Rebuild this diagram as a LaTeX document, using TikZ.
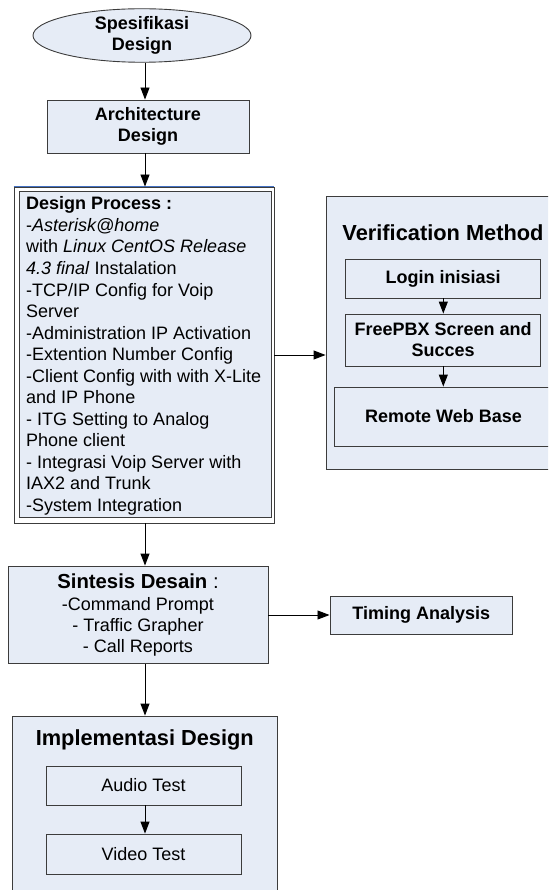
\documentclass[tikz,border=0pt]{standalone}
\usepackage{fontspec}
\setmainfont{Liberation Sans}
\usetikzlibrary{arrows.meta,shapes.geometric}
\definecolor{boxblue}{RGB}{230,236,246}
\definecolor{edgegray}{RGB}{60,60,60}
\definecolor{topblue}{RGB}{68,114,196}
\newcommand\fsmain{\fontsize{18}{21}\selectfont}
\newcommand\fslist{\fontsize{18}{21.55}\selectfont}
\newcommand\fstitle{\fontsize{21.8}{25}\selectfont}
\newcommand\fssint{\fontsize{20.3}{24}\selectfont}
\tikzset{
  blk/.style={draw=edgegray, line width=0.9pt, fill=boxblue, inner sep=0pt,
              font=\fsmain, align=center},
  bblk/.style={blk, font=\fsmain\bfseries},
  arr/.style={-{Triangle[length=12pt,width=9pt]}, line width=0.9pt, black},
  ttl/.style={inner sep=0pt, font=\fstitle\bfseries},
}
\begin{document}
\begin{tikzpicture}[x=1pt,y=-1pt]
\useasboundingbox (0,0) rectangle (548,890);
\begin{scope}
\clip (0,0) rectangle (548,890);

% vertical lines along which the flows run
\coordinate (colx) at (145,0);
\coordinate (vcol) at (443.3,0);

% main flow
\node[bblk, ellipse, minimum width=218, minimum height=53] (spec) at (142,35.5) {Spesifikasi\\Design};
\node[bblk, minimum width=202, minimum height=53] (arch) at (148,126.5) {Architecture\\Design};

% design process: framed box with list of steps
\node[draw=edgegray, line width=0.9pt, inner sep=0pt, minimum width=260, minimum height=336] (dframe) at (144,355) {};
\draw[topblue, line width=0.9pt] (dframe.north west) -- (dframe.north east);
\node[blk, minimum width=252, minimum height=326.5] (design) at (145.5,354.25) {};
\node[inner sep=0pt, anchor=north west, align=left, font=\fslist] (dtext) at (26,196.6)
  {\textbf{Design Process :}\\
   -\textit{Asterisk@home}\\
   with \textit{Linux CentOS Release}\\
   \textit{4.3 final} Instalation\\
   -TCP/IP Config for Voip\\
   Server\\
   -Administration IP Activation\\
   -Extention Number Config\\
   -Client Config with with X-Lite\\
   and IP Phone\\
   - ITG Setting to Analog\\
   Phone client\\
   - Integrasi Voip Server with\\
   IAX2 and Trunk\\
   -System Integration};

% verification method
\node[blk, minimum width=234, minimum height=273] (verif) at (443,332.5) {};
\node[ttl] (veriftitle) at (443,233) {Verification Method};
\node[bblk, minimum width=195, minimum height=39] (login) at (443.2,278.5) {Login inisiasi};
\node[bblk, minimum width=195, minimum height=52] (fpbx) at (443.2,340) {FreePBX Screen and\\Succes};
\node[bblk, minimum width=219, minimum height=59] (remote) at (443.5,416.5) {Remote Web Base};

% synthesis
\node[blk, minimum width=260, minimum height=97.5] (sint) at (138,614.75)
  {{\fssint\textbf{Sintesis Desain} :}\\[1pt]
   -Command Prompt\\
   - Traffic Grapher\\
   - Call Reports};
\node[bblk, minimum width=182.7, minimum height=38] (timing) at (421.3,615) {Timing Analysis};

% implementation
\node[blk, minimum width=265.7, minimum height=204] (impl) at (144.85,818) {};
\node[ttl] (impltitle) at (144.8,740) {Implementasi Design};
\node[blk, minimum width=195, minimum height=39] (audio) at (143.5,785.5) {Audio Test};
\node[blk, minimum width=195, minimum height=40] (video) at (143.5,854) {Video Test};

% connectors
\draw[arr] (spec.south -| colx) -- (arch.north -| colx);
\draw[arr] (arch.south -| colx) -- (dframe.north -| colx);
\draw[arr] (dframe.south -| colx) -- (sint.north -| colx);
\draw[arr] (sint.south -| colx) -- (impl.north -| colx);
\draw[arr] (dframe.east) -- (verif.west |- dframe.east);
\draw[arr] (login.south -| vcol) -- (fpbx.north -| vcol);
\draw[arr] (fpbx.south -| vcol) -- (remote.north -| vcol);
\draw[arr] (sint.east |- timing.west) -- (timing.west);
\draw[arr] (audio.south -| colx) -- (video.north -| colx);
\end{scope}
\end{tikzpicture}
\end{document}
